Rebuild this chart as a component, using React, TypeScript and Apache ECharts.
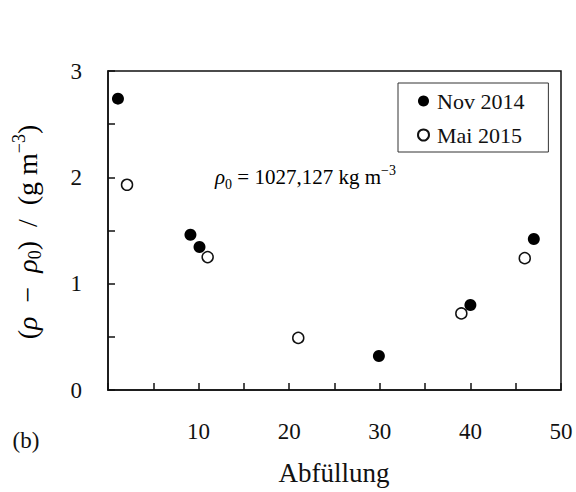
import React, { useEffect, useRef } from "react";
import * as echarts from "echarts";

const FONT = "'Liberation Serif', 'DejaVu Serif', serif";

const novName = "Nov 2014";
const maiName = "Mai 2015";
const novX = [1.1, 9.1, 10.1, 29.9, 40.0, 47.0];
const novY = [2.74, 1.46, 1.345, 0.32, 0.8, 1.42];
const maiX = [2.1, 11.0, 21.0, 39.0, 46.0];
const maiY = [1.93, 1.25, 0.49, 0.72, 1.24];

const xMin = 0;
const xMax = 50;
const xStep = 5;
const yMin = 0;
const yMax = 3;
const yStep = 0.5;

const xTitle = "Abfüllung";
const panelLabel = "(b)";

export default function App() {
  const ref = useRef<HTMLDivElement>(null);

  useEffect(() => {
    if (!ref.current) return;
    const chart = echarts.init(ref.current, null, { renderer: "svg" });

    const richBase = (fs: number, lh: number, sfs: number) => ({
      n: { fontFamily: FONT, fontSize: fs, lineHeight: lh, color: "#111" },
      i: { fontFamily: FONT, fontSize: fs, lineHeight: lh, fontStyle: "italic", color: "#111" },
      sub: { fontFamily: FONT, fontSize: sfs, lineHeight: sfs - 3, verticalAlign: "bottom", color: "#111" },
      sup: { fontFamily: FONT, fontSize: sfs, lineHeight: sfs, verticalAlign: "top", color: "#111" },
    });

    const pair = (xs: number[], ys: number[]) => xs.map((x, k) => [x, ys[k]]);

    chart.setOption({
      animation: false,
      backgroundColor: "#fff",
      grid: {
        left: 108,
        right: 15,
        top: 71,
        bottom: 102,
        show: true,
        borderColor: "#111",
        borderWidth: 1.5,
        backgroundColor: "transparent",
      },
      xAxis: {
        type: "value",
        min: xMin,
        max: xMax,
        interval: xStep,
        axisLine: { lineStyle: { color: "#111", width: 1.5 } },
        axisTick: { inside: true, length: 7, lineStyle: { color: "#111", width: 1.5 } },
        splitLine: { show: false },
        axisLabel: {
          margin: 30,
          fontFamily: FONT,
          fontSize: 23,
          color: "#111",
          formatter: (v: number) => (v % 10 === 0 && v !== 0 ? String(v) : ""),
        },
      },
      yAxis: {
        type: "value",
        min: yMin,
        max: yMax,
        interval: yStep,
        axisLine: { lineStyle: { color: "#111", width: 1.5 } },
        axisTick: { inside: true, length: 7, lineStyle: { color: "#111", width: 1.5 } },
        splitLine: { show: false },
        axisLabel: {
          margin: 26,
          fontFamily: FONT,
          fontSize: 23,
          color: "#111",
          formatter: (v: number) => (Number.isInteger(v) ? String(v) : ""),
        },
      },
      legend: {
        data: [novName, maiName],
        orient: "vertical",
        left: 398,
        top: 83,
        padding: [7, 24, 6, 19],
        itemGap: 12,
        itemWidth: 11,
        itemHeight: 11,
        borderColor: "#333",
        borderWidth: 1,
        backgroundColor: "#fff",
        textStyle: { fontFamily: FONT, fontSize: 22, color: "#111", lineHeight: 20, padding: [0, 0, 0, 3] },
      },
      graphic: [
        {
          type: "text",
          x: 27,
          y: 232,
          rotation: Math.PI / 2,
          style: {
            text: "{n|(}{i|ρ}{n|\u2002−\u2002}{i|ρ}{sub|0}{n|)\u2002/\u2002(g m}{sup|−3}{n|)}",
            rich: richBase(28, 34, 18),
            align: "center",
            verticalAlign: "middle",
          },
        },
        {
          type: "text",
          x: 215,
          y: 177,
          style: {
            text: "{i|ρ}{sub|0}{n| = 1027,127 kg m}{sup|−3}",
            rich: richBase(21, 28, 14),
            align: "left",
            verticalAlign: "middle",
          },
        },
        {
          type: "text",
          x: 334,
          y: 473,
          style: {
            text: xTitle,
            fontFamily: FONT,
            fontSize: 27,
            fill: "#111",
            align: "center",
            verticalAlign: "middle",
          },
        },
        {
          type: "text",
          x: 26,
          y: 440,
          style: {
            text: panelLabel,
            fontFamily: FONT,
            fontSize: 23,
            fill: "#111",
            align: "center",
            verticalAlign: "middle",
          },
        },
      ],
      series: [
        {
          name: maiName,
          type: "scatter",
          data: pair(maiX, maiY),
          symbol: "circle",
          symbolSize: 11,
          itemStyle: { color: "#fff", borderColor: "#111", borderWidth: 1.5, opacity: 1 },
          z: 2,
        },
        {
          name: novName,
          type: "scatter",
          data: pair(novX, novY),
          symbol: "circle",
          symbolSize: 12,
          itemStyle: { color: "#000", borderColor: "#000", borderWidth: 0, opacity: 1 },
          z: 3,
        },
      ],
    });

    return () => chart.dispose();
  }, []);

  return (
    <div
      ref={ref}
      style={{ position: "fixed", left: 0, top: 0, width: 576, height: 492 }}
    />
  );
}
